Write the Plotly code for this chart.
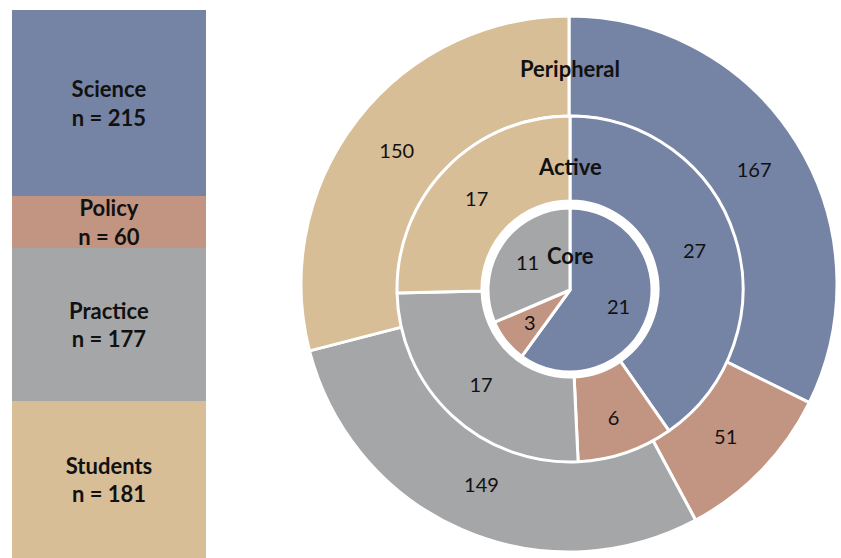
import math
import plotly.graph_objects as go

groups = ["Science", "Policy", "Practice", "Students"]
group_totals = [215, 60, 177, 181]
colors = ["#7583A5", "#C29582", "#A5A6A8", "#D8BE97"]

core_labels = ["Science", "Policy", "Practice"]
core_values = [21, 3, 11]
active_values = [27, 6, 17, 17]
peripheral_values = [167, 51, 149, 150]
ring_names = ["Peripheral", "Active", "Core"]

W, H = 841, 558
FONT = "Lato, Calibri, Carlito, sans-serif"

fig = go.Figure()

# Left stacked bar (Students at bottom, Science at top)
for g, n, c in reversed(list(zip(groups, group_totals, colors))):
    fig.add_trace(go.Bar(
        x=[0], y=[n], width=[1], marker=dict(color=c, line=dict(width=0)),
        text=[f"<b>{g}<br>n = {n}</b>"], textposition="inside",
        insidetextanchor="middle", constraintext="none",
        textfont=dict(family=FONT, size=22, color="#111"),
        hoverinfo="skip", showlegend=False,
    ))

def dom(cx, cy, r):
    yb = H - cy
    return dict(x=[(cx - r) / W, (cx + r) / W], y=[(yb - r) / H, (yb + r) / H])

out_c, r_out, out_hole = (569, 284), 268, 168
mid_c, r_mid, mid_hole = (570, 289), 173, 88
core_c, r_core = (570, 290), 82

fig.add_trace(go.Pie(
    labels=groups, values=peripheral_values, sort=False, direction="clockwise",
    rotation=0, hole=out_hole / r_out, domain=dom(*out_c, r_out),
    marker=dict(colors=colors, line=dict(color="white", width=3)),
    textinfo="value", textposition="inside", insidetextorientation="horizontal",
    textfont=dict(family=FONT, size=20, color="#111"), showlegend=False,
    hoverinfo="label+value",
))
fig.add_trace(go.Pie(
    labels=groups, values=active_values, sort=False, direction="clockwise",
    rotation=0, hole=mid_hole / r_mid, domain=dom(*mid_c, r_mid),
    marker=dict(colors=colors, line=dict(color="white", width=3)),
    textinfo="value", textposition="inside", insidetextorientation="horizontal",
    textfont=dict(family=FONT, size=20, color="#111"), showlegend=False,
    hoverinfo="label+value",
))
fig.add_trace(go.Pie(
    labels=core_labels, values=core_values, sort=False, direction="clockwise",
    rotation=0, domain=dom(*core_c, r_core),
    marker=dict(colors=colors[:3], line=dict(color="white", width=3)),
    textinfo="none", showlegend=False, hoverinfo="label+value",
))

# Core slice value labels, placed from the cumulative data angles
total = sum(core_values)
cum = 0
for v in core_values:
    mid_ang = math.radians((cum + v / 2) / total * 360)
    cum += v
    rr = 0.62 * r_core
    px = core_c[0] + rr * math.sin(mid_ang)
    py = core_c[1] - rr * math.cos(mid_ang)
    fig.add_annotation(x=px / W, y=(H - py) / H, xref="paper", yref="paper",
                       xanchor="center", yanchor="middle", text=str(v),
                       showarrow=False, font=dict(family=FONT, size=20, color="#111"))

for name, ypx in zip(ring_names, [68, 166, 255]):
    fig.add_annotation(x=570 / W, y=(H - ypx) / H, xref="paper", yref="paper",
                       xanchor="center", yanchor="middle",
                       text=f"<b>{name}</b>", showarrow=False,
                       font=dict(family=FONT, size=22, color="#111"))

fig.update_layout(
    width=W, height=H, margin=dict(l=0, r=0, t=0, b=0),
    paper_bgcolor="white", plot_bgcolor="white", barmode="stack",
    showlegend=False,
    xaxis=dict(domain=[12 / W, 206 / W], range=[-0.5, 0.5], visible=False, fixedrange=True),
    yaxis=dict(domain=[0, 548 / H], range=[0, sum(group_totals)], visible=False, fixedrange=True),
)

fig.write_html("out.html", config={"displayModeBar": False},
               post_script="document.body.style.margin='0';document.body.style.overflow='hidden';")
